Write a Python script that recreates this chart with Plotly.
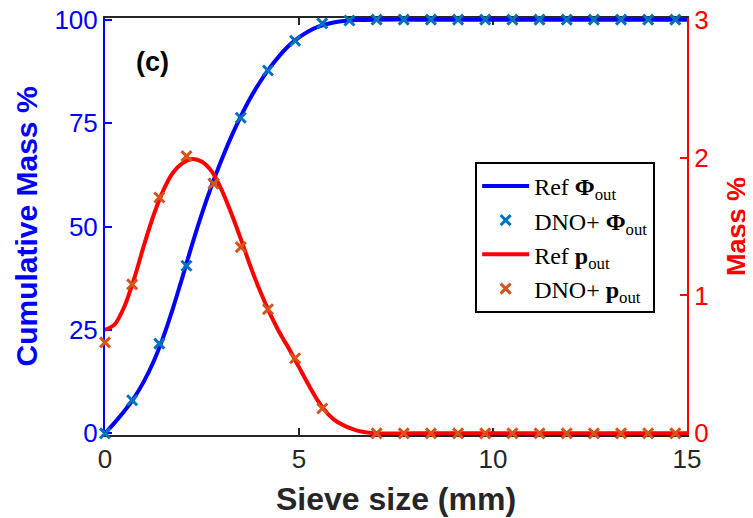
import plotly.graph_objects as go

# Sieve sizes (mm) of the DNO+ predictions
sieve_pts = [0.0, 0.7, 1.4, 2.1, 2.8, 3.5, 4.2, 4.9, 5.6, 6.3, 7.0, 7.7, 8.4,
             9.1, 9.8, 10.5, 11.2, 11.9, 12.6, 13.3, 14.0, 14.7]
dno_cum = [0.0, 8.0, 21.7, 40.5, 60.4, 76.3, 87.7, 94.9, 99.1, 99.8, 100, 100,
           100, 100, 100, 100, 100, 100, 100, 100, 100, 100]
dno_mass = [0.66, 1.08, 1.71, 2.01, 1.81, 1.35, 0.90, 0.545, 0.18, None, 0, 0,
            0, 0, 0, 0, 0, 0, 0, 0, 0, 0]

# Reference curves
ref_x = [0.0, 0.25, 0.5, 0.75, 1.0, 1.25, 1.5, 1.75, 2.0, 2.25, 2.5, 2.75,
         3.0, 3.25, 3.5, 3.75, 4.0, 4.25, 4.5, 4.75, 5.0, 5.25, 5.5, 5.75,
         6.0, 6.5, 7.0, 8.0, 9.0, 10.0, 11.0, 12.0, 13.0, 14.0, 15.0]
ref_cum = [0.0, 2.6, 5.4, 8.6, 12.5, 17.3, 23.2, 30.2, 37.9, 45.8, 53.2, 59.9,
           66.0, 71.6, 76.6, 81.1, 85.0, 88.4, 91.3, 93.8, 95.7, 97.2, 98.3,
           99.0, 99.5, 99.9, 100, 100, 100, 100, 100, 100, 100, 100, 100]
ref_mass = [0.75, 0.79, 0.92, 1.12, 1.36, 1.58, 1.76, 1.89, 1.96, 1.99, 1.97,
            1.90, 1.77, 1.60, 1.41, 1.21, 1.03, 0.87, 0.73, 0.61, 0.48, 0.35,
            0.23, 0.14, 0.08, 0.02, 0.0, 0, 0, 0, 0, 0, 0, 0, 0]

x_ticks = [0, 5, 10, 15]
y1_ticks = [0, 25, 50, 75, 100]
y2_ticks = [0, 1, 2, 3]

BLUE = "#0000FF"
RED = "#FF0000"
MBLUE = "#0072BD"
MORANGE = "#D95319"
DARK = "#262626"

fig = go.Figure()
fig.add_trace(go.Scatter(x=ref_x, y=ref_cum, mode="lines", name="Ref <b>Φ</b><sub>out</sub>",
                         line=dict(color=BLUE, width=4, shape="spline", smoothing=0.8), yaxis="y"))
fig.add_trace(go.Scatter(x=sieve_pts, y=dno_cum, mode="markers", name="DNO+ <b>Φ</b><sub>out</sub>",
                         marker=dict(symbol="x-thin", size=10, color=MBLUE,
                                     line=dict(width=3, color=MBLUE)),
                         cliponaxis=False, yaxis="y"))
fig.add_trace(go.Scatter(x=ref_x, y=ref_mass, mode="lines", name="Ref <b>p</b><sub>out</sub>",
                         line=dict(color=RED, width=4, shape="spline", smoothing=0.8), yaxis="y2"))
fig.add_trace(go.Scatter(x=sieve_pts, y=dno_mass, mode="markers", name="DNO+ <b>p</b><sub>out</sub>",
                         marker=dict(symbol="x-thin", size=10, color=MORANGE,
                                     line=dict(width=3, color=MORANGE)),
                         cliponaxis=False, yaxis="y2"))

fig.update_layout(
    width=753, height=518,
    margin=dict(l=97, r=74, t=10, b=91),
    paper_bgcolor="white", plot_bgcolor="white",
    font=dict(family="Liberation Sans, Arial, sans-serif", size=26, color=DARK),
    xaxis=dict(range=[0, 15], tickvals=x_ticks, ticks="inside", ticklen=7, tickwidth=2,
               tickcolor=DARK, showline=True, linecolor=DARK, linewidth=2, mirror="ticks",
               showgrid=False, zeroline=False, layer="below traces", automargin=False,
               ticklabeloverflow="allow",
               tickfont=dict(size=26, color=DARK),
               title=dict(text="<b>Sieve size (mm)</b>", font=dict(size=32, color=DARK), standoff=14)),
    yaxis=dict(range=[-0.4, 100.4], tickvals=y1_ticks, ticks="inside", ticklen=7, tickwidth=2,
               tickcolor=BLUE, showline=True, linecolor=BLUE, linewidth=2,
               showgrid=False, zeroline=False, layer="below traces", automargin=False,
               ticklabeloverflow="allow",
               tickfont=dict(size=26, color=BLUE),
               title=dict(text="<b>Cumulative Mass %</b>", font=dict(size=30, color=BLUE), standoff=8)),
    yaxis2=dict(range=[-0.012, 3.012], tickvals=y2_ticks, ticks="inside", ticklen=7, tickwidth=2,
                tickcolor=RED, showline=True, linecolor=RED, linewidth=2,
                overlaying="y", side="right", anchor="x", automargin=False,
                ticklabeloverflow="allow",
                showgrid=False, zeroline=False, layer="below traces",
                tickfont=dict(size=26, color=RED),
                title=dict(text="<b>Mass %</b>", font=dict(size=27, color=RED), standoff=19)),
    legend=dict(x=0.636, y=0.655, xanchor="left", yanchor="top",
                bgcolor="white", bordercolor="black", borderwidth=2,
                font=dict(family="Liberation Serif, DejaVu Serif, serif", size=24, color="black"),
                tracegroupgap=0, itemwidth=47),
    showlegend=True,
    annotations=[dict(text="<b>(c)</b>", x=0.081, y=0.894, xref="paper", yref="paper",
                      showarrow=False, font=dict(size=27, color="black"),
                      xanchor="center", yanchor="middle")],
)

fig.write_html("out.html")
